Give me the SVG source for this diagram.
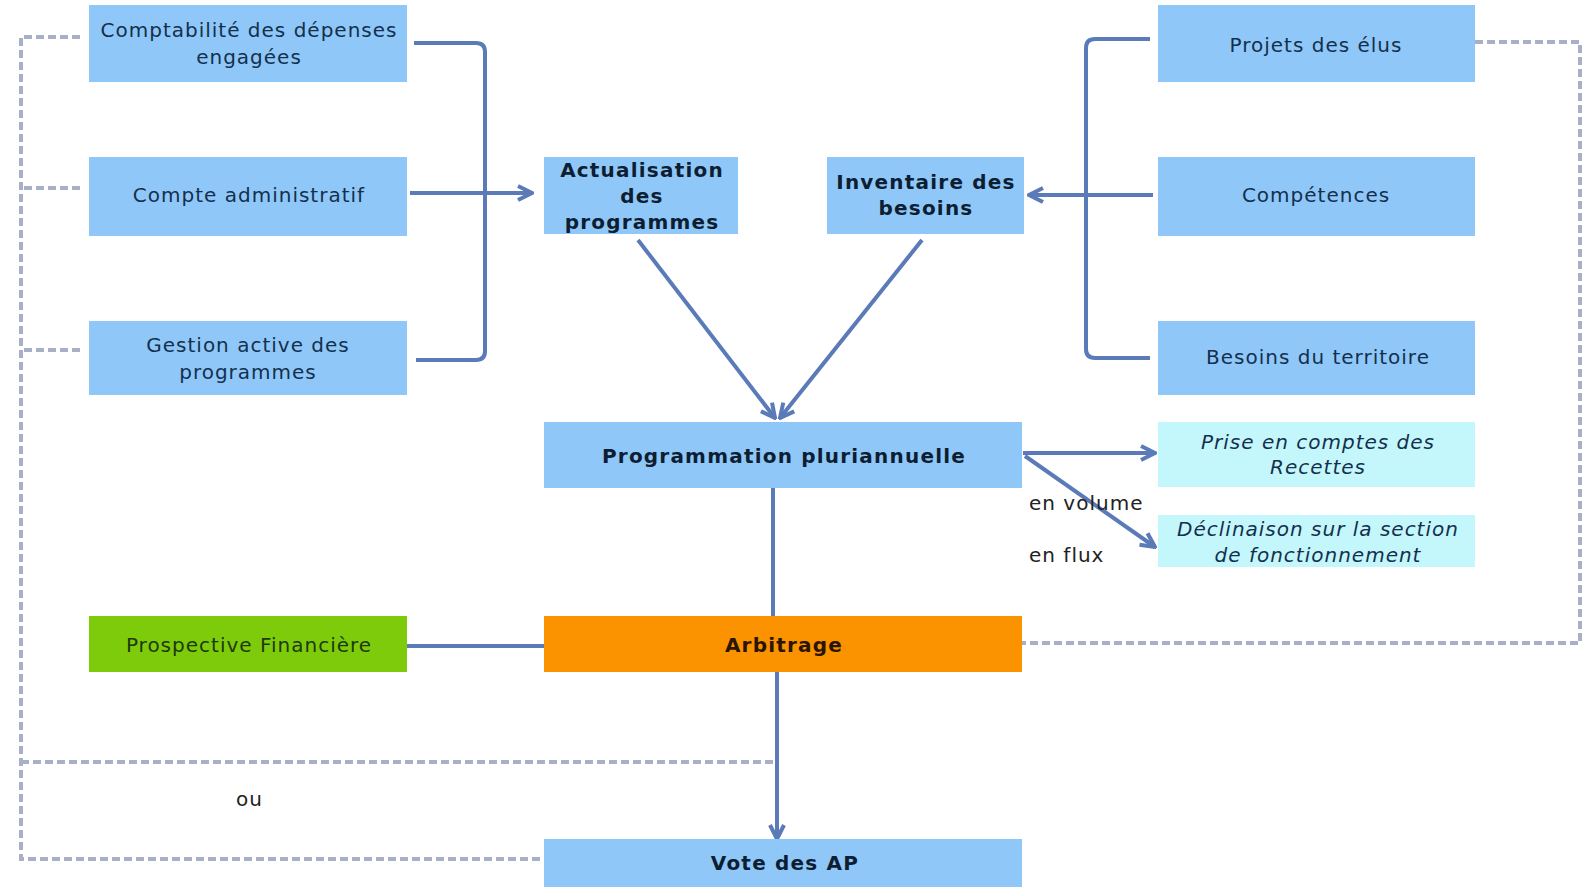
<svg xmlns="http://www.w3.org/2000/svg" width="1588" height="893" viewBox="0 0 1588 893">
<style>
.b{fill:#8fc8f8}
.c{fill:#c4f7fb}
.t{font-family:"DejaVu Sans",Verdana,sans-serif;font-size:20px;letter-spacing:1px;fill:#14304e;text-anchor:middle}
.bd{font-weight:bold;fill:#0d1e33;letter-spacing:1.2px}
.it{font-style:italic}
.lb{font-family:"DejaVu Sans",Verdana,sans-serif;font-size:20px;letter-spacing:1px;fill:#222}
.ln{fill:none;stroke:#5a7ab8;stroke-width:4}
.ds{fill:none;stroke:#a8b0c8;stroke-width:4;stroke-dasharray:8,4}
</style>
<defs>
<marker id="ah2" markerWidth="18" markerHeight="18" refX="16" refY="9" orient="auto" markerUnits="userSpaceOnUse" viewBox="0 0 18 18">
<path d="M2,2 L16,9 L2,16" fill="none" stroke="#5a7ab8" stroke-width="4"/>
</marker>
</defs>
<rect width="1588" height="893" fill="#fff"/>
<g id="connectors">
<path class="ds" d="M80,37 H21 V859 H544"/>
<path class="ds" d="M80,188 H21"/>
<path class="ds" d="M80,350 H21"/>
<path class="ds" d="M21,762 H777"/>
<path class="ds" d="M1475,42 H1580 V643 H1022"/>
<path class="ln" d="M414,43 H476 Q485,43 485,52 V351 Q485,360 476,360 H416"/>
<path class="ln" d="M410,193 H532" marker-end="url(#ah2)"/>
<path class="ln" d="M1150,39 H1095 Q1086,39 1086,48 V349 Q1086,358 1095,358 H1150"/>
<path class="ln" d="M1153,195 H1029" marker-end="url(#ah2)"/>
<path class="ln" d="M638,240 L775,418" marker-end="url(#ah2)"/>
<path class="ln" d="M922,240 L780,418" marker-end="url(#ah2)"/>
<path class="ln" d="M1023,453 H1155" marker-end="url(#ah2)"/>
<path class="ln" d="M1025,456 L1155,547" marker-end="url(#ah2)"/>
<path class="ln" d="M773,488 V616"/>
<path class="ln" d="M407,646 H544"/>
<path class="ln" d="M777,672 V839" marker-end="url(#ah2)"/>
</g>
<g id="n-comptabilite"><rect class="b" x="89" y="5" width="318" height="77"/><text class="t" x="249" y="37">Comptabilité des dépenses</text><text class="t" x="249" y="64">engagées</text></g>
<g id="n-compte"><rect class="b" x="89" y="157" width="318" height="79"/><text class="t" x="249" y="202">Compte administratif</text></g>
<g id="n-gestion"><rect class="b" x="89" y="321" width="318" height="74"/><text class="t" x="248" y="352">Gestion active des</text><text class="t" x="248" y="379">programmes</text></g>
<g id="n-actualisation"><rect class="b" x="544" y="157" width="194" height="77"/><text class="t bd" x="642" y="177">Actualisation</text><text class="t bd" x="642" y="203">des</text><text class="t bd" x="642" y="229">programmes</text></g>
<g id="n-inventaire"><rect class="b" x="827" y="157" width="197" height="77"/><text class="t bd" x="926" y="189">Inventaire des</text><text class="t bd" x="926" y="215">besoins</text></g>
<g id="n-projets"><rect class="b" x="1158" y="5" width="317" height="77"/><text class="t" x="1316" y="52">Projets des élus</text></g>
<g id="n-competences"><rect class="b" x="1158" y="157" width="317" height="79"/><text class="t" x="1316" y="202">Compétences</text></g>
<g id="n-besoins"><rect class="b" x="1158" y="321" width="317" height="74"/><text class="t" x="1318" y="364">Besoins du territoire</text></g>
<g id="n-programmation"><rect class="b" x="544" y="422" width="478" height="66"/><text class="t bd" x="784" y="463">Programmation pluriannuelle</text></g>
<g id="n-prise"><rect class="c" x="1158" y="422" width="317" height="65"/><text class="t it" x="1318" y="449">Prise en comptes des</text><text class="t it" x="1318" y="474">Recettes</text></g>
<g id="n-declinaison"><rect class="c" x="1158" y="515" width="317" height="52"/><text class="t it" x="1318" y="536">Déclinaison sur la section</text><text class="t it" x="1318" y="562">de fonctionnement</text></g>
<g id="n-prospective"><rect fill="#7dcb0b" x="89" y="616" width="318" height="56"/><text class="t" style="fill:#1d3a0a" x="249" y="652">Prospective Financière</text></g>
<g id="n-arbitrage"><rect fill="#fb9200" x="544" y="616" width="478" height="56"/><text class="t bd" style="fill:#2a1500" x="784" y="652">Arbitrage</text></g>
<g id="n-vote"><rect class="b" x="544" y="839" width="478" height="48"/><text class="t bd" x="785" y="870">Vote des AP</text></g>
<g id="labels">
<text class="lb" x="1029" y="510">en volume</text>
<text class="lb" x="1029" y="562">en flux</text>
<text class="lb" x="236" y="806">ou</text>
</g>
</svg>
